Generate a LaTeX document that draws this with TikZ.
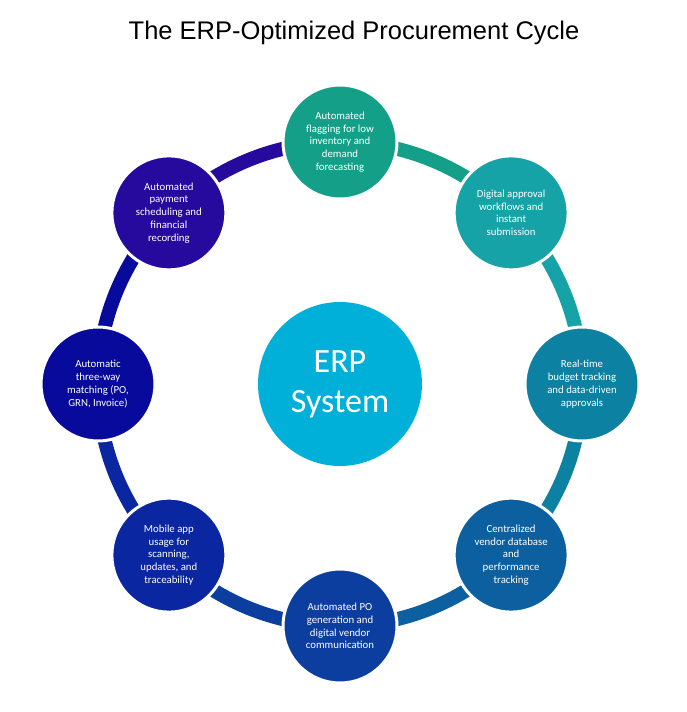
\documentclass[tikz,border=0pt]{standalone}
\usepackage{fontspec}
\setmainfont{Carlito}
\newfontfamily\titlefont{Liberation Sans}
\usetikzlibrary{calc,backgrounds}

\definecolor{erpcyan}{RGB}{0,176,216}
\definecolor{flagcol}{RGB}{20,160,136}
\definecolor{approvcol}{RGB}{22,163,167}
\definecolor{budgetcol}{RGB}{12,129,161}
\definecolor{vendorcol}{RGB}{12,96,160}
\definecolor{pocol}{RGB}{12,62,160}
\definecolor{mobilecol}{RGB}{10,38,160}
\definecolor{matchcol}{RGB}{8,10,156}
\definecolor{paycol}{RGB}{38,10,158}

\begin{document}
\begin{tikzpicture}[x=1pt,y=1pt,
	stage/.style={circle,draw=white,line width=3pt,minimum size=114pt,inner sep=0pt,
		text=white,align=center,font=\fontsize{10.8}{12.8}\selectfont},
	ring/.style={line width=14pt}]
	\useasboundingbox (0,0) rectangle (686,712);
	\coordinate (O) at (340,328);
	
	% Title
	\node (title) at (354,679) {\titlefont\fontsize{25.5}{30}\selectfont The ERP-Optimized Procurement Cycle};
	
	% Centre
	\node[circle,fill=erpcyan,minimum size=164pt,inner sep=0pt,text=white,align=center,
		font=\fontsize{34}{40}\selectfont] (erp) at (O) {ERP\\System};
	
	% Stages, clockwise from the top
	\node[stage,fill=flagcol] (flag) at ($(O)+(90:242)$) {Automated\\flagging for low\\inventory and\\demand\\forecasting};
	\node[stage,fill=approvcol] (approv) at ($(O)+(45:242)$) {Digital approval\\workflows and\\instant\\submission};
	\node[stage,fill=budgetcol] (budget) at ($(O)+(0:242)$) {Real-time\\budget tracking\\and data-driven\\approvals};
	\node[stage,fill=vendorcol] (vendor) at ($(O)+(-45:242)$) {Centralized\\vendor database\\and\\performance\\tracking};
	\node[stage,fill=pocol] (po) at ($(O)+(-90:242)$) {Automated PO\\generation and\\digital vendor\\communication};
	\node[stage,fill=mobilecol] (mobile) at ($(O)+(-135:242)$) {Mobile app\\usage for\\scanning,\\updates, and\\traceability};
	\node[stage,fill=matchcol] (match) at ($(O)+(180:242)$) {Automatic\\three-way\\matching (PO,\\GRN, Invoice)};
	\node[stage,fill=paycol] (pay) at ($(O)+(135:242)$) {Automated\\payment\\scheduling and\\financial\\recording};
	
	% Ring behind the stages
	\begin{pgfonlayer}{background}
		\draw[ring,flagcol] (flag.center) arc[start angle=90,end angle=45,radius=242];
		\draw[ring,approvcol] (approv.center) arc[start angle=45,end angle=0,radius=242];
		\draw[ring,budgetcol] (budget.center) arc[start angle=0,end angle=-45,radius=242];
		\draw[ring,vendorcol] (vendor.center) arc[start angle=-45,end angle=-90,radius=242];
		\draw[ring,pocol] (po.center) arc[start angle=-90,end angle=-135,radius=242];
		\draw[ring,mobilecol] (mobile.center) arc[start angle=-135,end angle=-180,radius=242];
		\draw[ring,matchcol] (match.center) arc[start angle=180,end angle=135,radius=242];
		\draw[ring,paycol] (pay.center) arc[start angle=135,end angle=90,radius=242];
	\end{pgfonlayer}
\end{tikzpicture}
\end{document}
